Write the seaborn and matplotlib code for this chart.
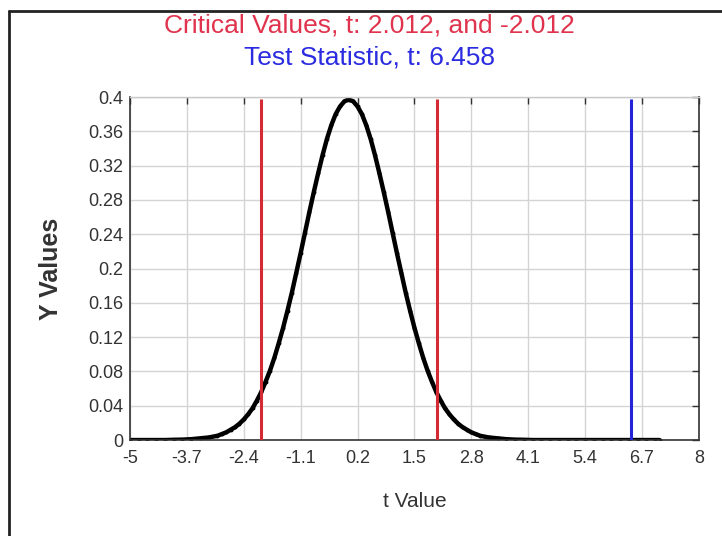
import numpy as np
import pandas as pd
import matplotlib
matplotlib.use('Agg')
import matplotlib.pyplot as plt
import seaborn as sbn

# t values and density
t_vals = [-5.0, -4.8, -4.6, -4.4, -4.2, -4.0, -3.8, -3.6, -3.4, -3.2,
          -3.0, -2.9, -2.8, -2.7, -2.6, -2.5, -2.4, -2.3, -2.2, -2.1,
          -2.0, -1.9, -1.8, -1.7, -1.6, -1.5, -1.4, -1.3, -1.2, -1.1,
          -1.0, -0.9, -0.8, -0.7, -0.6, -0.5, -0.4, -0.3, -0.2, -0.1,
          0.0, 0.1, 0.2, 0.3, 0.4, 0.5, 0.6, 0.7, 0.8, 0.9,
          1.0, 1.1, 1.2, 1.3, 1.4, 1.5, 1.6, 1.7, 1.8, 1.9,
          2.0, 2.1, 2.2, 2.3, 2.4, 2.5, 2.6, 2.7, 2.8, 2.9,
          3.0, 3.2, 3.4, 3.6, 3.8, 4.0, 4.2, 4.4, 4.6, 4.8,
          5.0, 5.2, 5.4, 5.6, 5.8, 6.0, 6.2, 6.4, 6.6, 6.8,
          7.0, 7.1]
y_vals = [0.0, 0.0, 0.0, 0.0, 0.0, 0.0003, 0.0005, 0.001, 0.002, 0.003,
          0.005, 0.007, 0.009, 0.012, 0.015, 0.019, 0.024, 0.030, 0.037, 0.046,
          0.056, 0.068, 0.081, 0.096, 0.113, 0.131, 0.151, 0.172, 0.195, 0.218,
          0.242, 0.266, 0.289, 0.311, 0.332, 0.351, 0.367, 0.380, 0.389, 0.395,
          0.397, 0.395, 0.389, 0.380, 0.367, 0.351, 0.332, 0.311, 0.289, 0.266,
          0.242, 0.218, 0.195, 0.172, 0.151, 0.131, 0.113, 0.096, 0.081, 0.068,
          0.056, 0.046, 0.037, 0.030, 0.024, 0.019, 0.015, 0.012, 0.009, 0.007,
          0.005, 0.003, 0.002, 0.001, 0.0005, 0.0003, 0.0, 0.0, 0.0, 0.0,
          0.0, 0.0, 0.0, 0.0, 0.0, 0.0, 0.0, 0.0, 0.0, 0.0,
          0.0, 0.0]
critical_vals = [-2.012, 2.012]
test_stat = 6.458
x_ticks = [-5, -3.7, -2.4, -1.1, 0.2, 1.5, 2.8, 4.1, 5.4, 6.7, 8]
y_ticks = [0, 0.04, 0.08, 0.12, 0.16, 0.2, 0.24, 0.28, 0.32, 0.36, 0.4]

df = pd.DataFrame({'t': t_vals, 'y': y_vals})

sbn.set_style('white')
plt.rcParams['font.family'] = ['Liberation Sans', 'DejaVu Sans']

fig = plt.figure(figsize=(7.22, 5.36), dpi=100)
ax = fig.add_axes([0.180, 0.179, 0.788, 0.640])

# curve
sbn.lineplot(data=df, x='t', y='y', ax=ax, color='black', linewidth=3.2,
             marker='.', markersize=4, markeredgecolor='black')

# critical values and test statistic
ax.vlines(critical_vals, 0, 0.398, color='#d42a35', linewidth=2.2, zorder=3)
ax.vlines([test_stat], 0, 0.398, color='#2323d8', linewidth=2.2, zorder=3)

ax.set_xlim(-5, 8)
ax.set_ylim(0, 0.4)
ax.set_xticks(x_ticks)
ax.set_xticklabels([f'{v:g}' for v in x_ticks])
ax.set_yticks(y_ticks)
ax.set_yticklabels([f'{v:g}' for v in y_ticks])
ax.tick_params(direction='in', top=True, right=True, length=5, width=1,
               labelsize=13, labelcolor='#333333', colors='#333333')
ax.tick_params(axis='x', pad=7)
ax.tick_params(axis='y', pad=5)
ax.grid(True, color='#d4d4d4', linewidth=1)
ax.set_axisbelow(True)
for side in ['left', 'bottom', 'right']:
    ax.spines[side].set_color('#333333')
    ax.spines[side].set_linewidth(1.2)
ax.spines['top'].set_color('#c8c8c8')
ax.spines['top'].set_linewidth(1)

ax.set_xlabel('t Value', fontsize=15, color='#333333', labelpad=18)
ax.set_ylabel('Y Values', fontsize=18, fontweight='bold', color='#333333', labelpad=18)

# titles
fig.text(0.512, 0.953, 'Critical Values, t: 2.012, and -2.012', color='#e0334d',
         fontsize=19, ha='center', va='center')
fig.text(0.512, 0.892, 'Test Statistic, t: 6.458', color='#2b2be0',
         fontsize=19, ha='center', va='center')

# frame lines at the left and top of the figure
fig.add_artist(plt.Line2D([0.013, 0.013], [0, 0.980], color='#222222', linewidth=2,
                          transform=fig.transFigure))
fig.add_artist(plt.Line2D([0.013, 1], [0.980, 0.980], color='#222222', linewidth=2,
                          transform=fig.transFigure))

plt.savefig('out.png', dpi=100)
